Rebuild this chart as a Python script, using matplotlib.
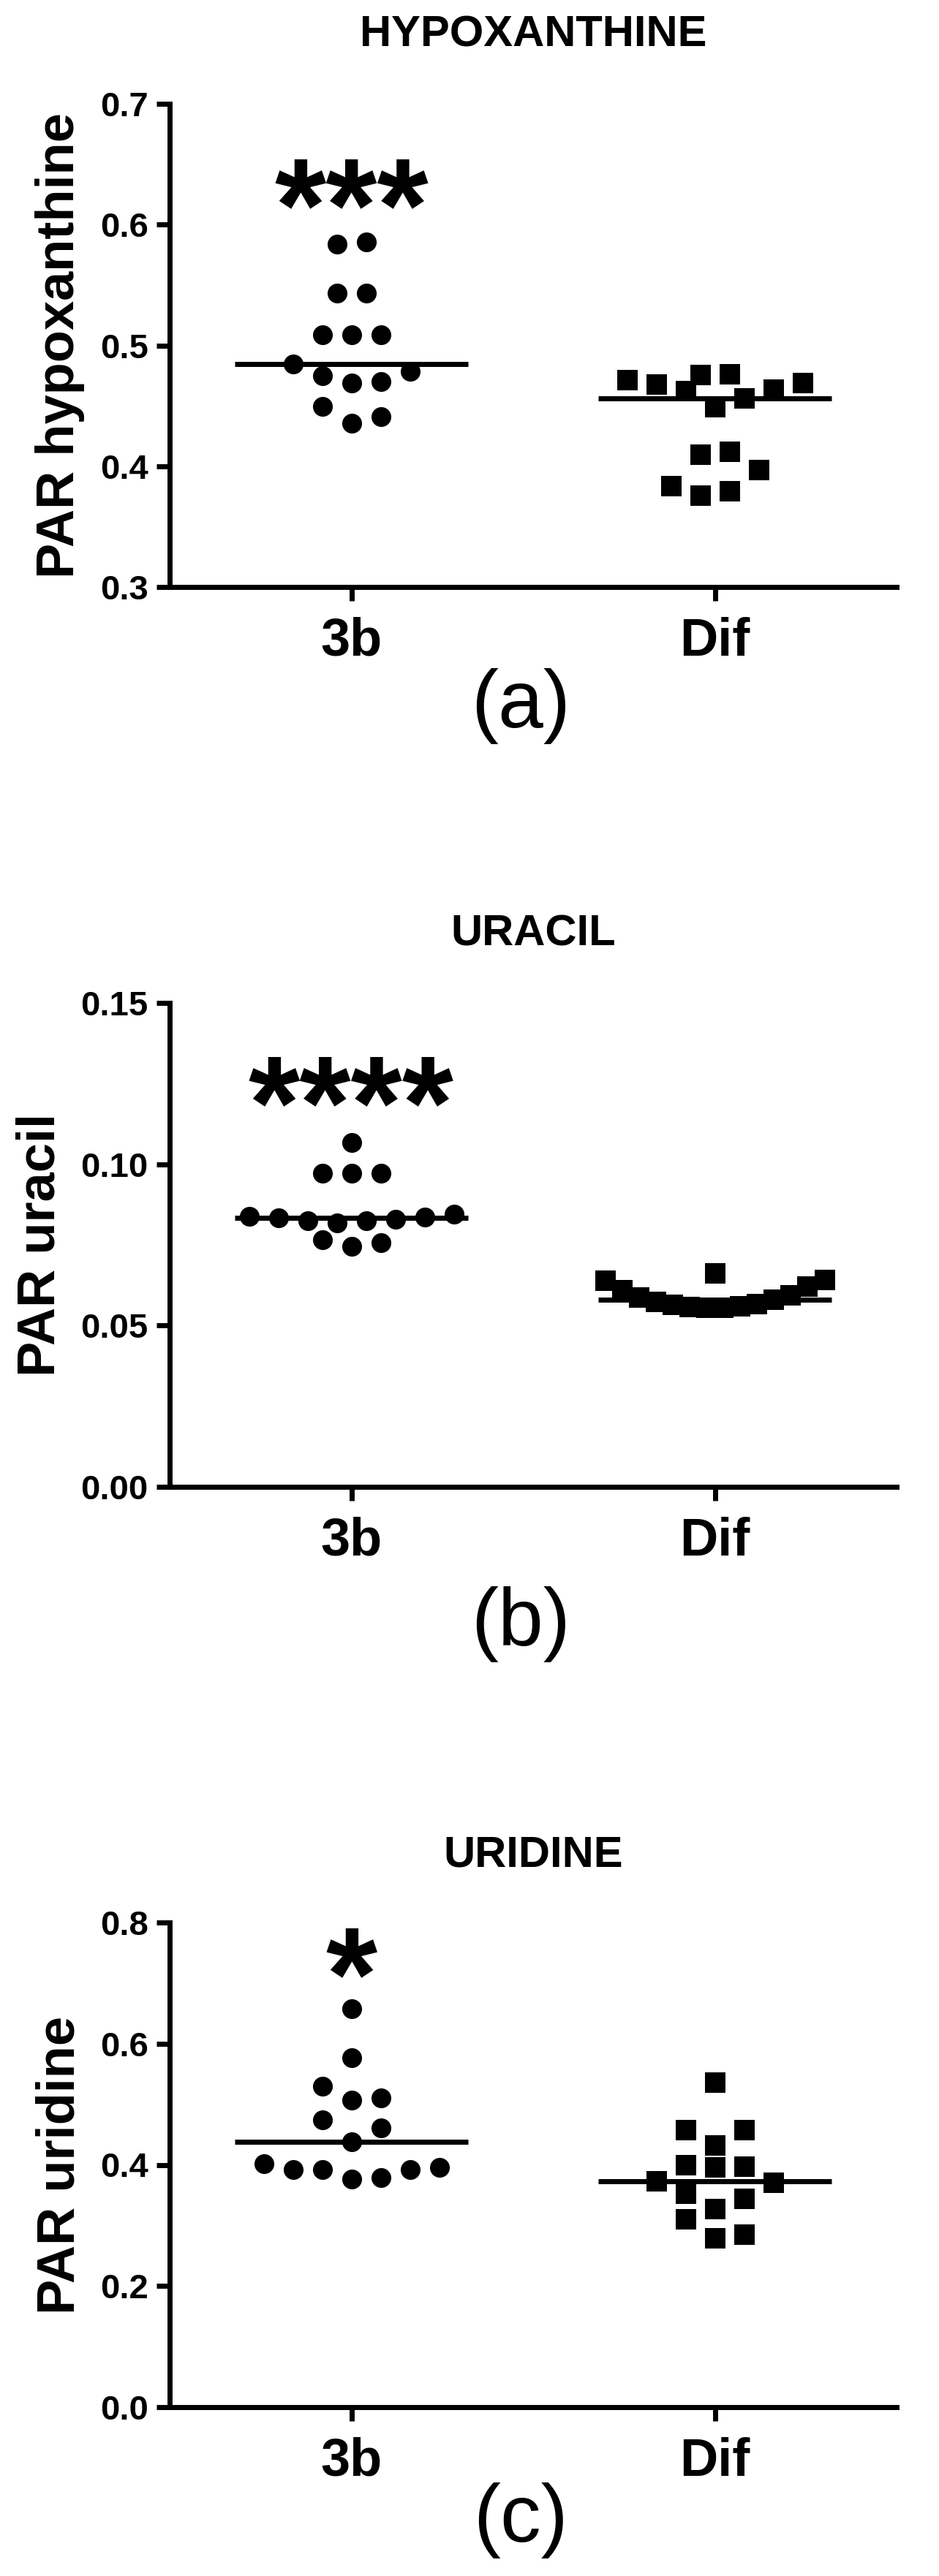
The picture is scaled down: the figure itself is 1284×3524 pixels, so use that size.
import numpy as np
import matplotlib
matplotlib.use("Agg")
import matplotlib.pyplot as plt

plt.rcParams['font.family'] = ['Liberation Sans', 'DejaVu Sans']

# ---------------- data ----------------
groups = ["3b", "Dif"]

hypox_3b = [0.4358, 0.4411, 0.4492, 0.4690, 0.4703, 0.4751, 0.4783, 0.4844,
            0.5087, 0.5087, 0.5087, 0.5431, 0.5431, 0.5836, 0.5856]
hypox_dif = [0.3756, 0.3790, 0.3835, 0.3970, 0.4095, 0.4120, 0.4487, 0.4560,
             0.4621, 0.4633, 0.4674, 0.4690, 0.4715, 0.4755, 0.4763]

uracil_3b = [0.0746, 0.0757, 0.0765, 0.0818, 0.0825, 0.0825, 0.0830, 0.0833,
             0.0836, 0.0838, 0.0845, 0.0973, 0.0973, 0.0973, 0.1068]
uracil_dif = [0.0555, 0.0556, 0.0558, 0.0560, 0.0564, 0.0567, 0.0573, 0.0579,
              0.0586, 0.0594, 0.0610, 0.0620, 0.0638, 0.0642, 0.0661]

uridine_3b = [0.3767, 0.3783, 0.3916, 0.3916, 0.3916, 0.3958, 0.4015, 0.4386,
              0.4609, 0.4742, 0.5073, 0.5106, 0.5296, 0.5768, 0.6577]
uridine_dif = [0.2792, 0.2842, 0.3106, 0.3271, 0.3437, 0.3519, 0.3701, 0.3726,
               0.3958, 0.3974, 0.3999, 0.4321, 0.4577, 0.4577, 0.5354]

titles = ["HYPOXANTHINE", "URACIL", "URIDINE"]
ylabels = ["PAR hypoxanthine", "PAR uracil", "PAR uridine"]
panel_tags = ["(a)", "(b)", "(c)"]
significance = ["***", "****", "*"]
yticks = [[0.3, 0.4, 0.5, 0.6, 0.7],
          [0.00, 0.05, 0.10, 0.15],
          [0.0, 0.2, 0.4, 0.6, 0.8]]
ytick_labels = [["0.3", "0.4", "0.5", "0.6", "0.7"],
                ["0.00", "0.05", "0.10", "0.15"],
                ["0.0", "0.2", "0.4", "0.6", "0.8"]]

panels = [(hypox_3b, hypox_dif), (uracil_3b, uracil_dif), (uridine_3b, uridine_dif)]

# ---------------- layout (pixels in the 1284 x 3524 figure) ----------------
W, H = 1284, 3524
DPI = 100
ax_left, ax_right = 232, 1226
ax_tops = [142, 1372, 2630]
ax_bottoms = [803, 2034, 3293]
title_baselines = [64, 1294, 2553]
tag_centers = [966, 2222, 3448]
star_centers = [0.639, 0.1278, 0.7614]   # vertical centre of the asterisks (data units)


def row_layout(values, px_per_unit, slot=40.0, h=39.0, g=23.0, max_span=300.0):
    """Prism-like column scatter: group sorted values into rows and spread
    each row symmetrically (lowest value in the middle)."""
    v = np.asarray(values, float)
    order = np.argsort(v, kind="stable")
    offs = np.zeros(len(v))
    rows, cur = [], [order[0]]
    for idx in order[1:]:
        if ((v[idx] - v[cur[0]]) * px_per_unit > h or
                (v[idx] - v[cur[-1]]) * px_per_unit > g):
            rows.append(cur)
            cur = [idx]
        else:
            cur.append(idx)
    rows.append(cur)
    for row in rows:
        n = len(row)
        sp = slot if n < 2 else min(slot, max_span / (n - 1))
        if n % 2:
            seq = [0.0] + [s * k for k in range(1, n // 2 + 1) for s in (1, -1)]
        else:
            seq = [s * (k - 0.5) for k in range(1, n // 2 + 1) for s in (-1, 1)]
        for idx, pos in zip(row, seq):
            offs[idx] = pos * sp
    return offs


fig = plt.figure(figsize=(W / DPI, H / DPI), dpi=DPI)
markers = ["o", "s"]
LW = 5

for p, data_pair in enumerate(panels):
    top, bot = ax_tops[p], ax_bottoms[p]
    ax = fig.add_axes([ax_left / W, 1 - bot / H, (ax_right - ax_left) / W, (bot - top) / H])
    ymin, ymax = yticks[p][0], yticks[p][-1]
    ax.set_xlim(-0.5, 1.5)
    ax.set_ylim(ymin, ymax)
    px_per_y = (bot - top) / (ymax - ymin)
    px_per_x = (ax_right - ax_left) / 2.0

    for gi, vals in enumerate(data_pair):
        offs = row_layout(vals, px_per_y)
        xs = gi + offs / px_per_x
        ax.plot(xs, vals, linestyle="none", marker=markers[gi], ms=19.5,
                color="black", mew=0, clip_on=False, zorder=3)
        med = float(np.median(vals))
        ax.plot([gi - 0.32, gi + 0.32], [med, med], color="black", lw=5,
                solid_capstyle="butt", zorder=4)

    for side in ("top", "right"):
        ax.spines[side].set_visible(False)
    for side in ("left", "bottom"):
        ax.spines[side].set_linewidth(LW)
        ax.spines[side].set_capstyle("projecting")

    ax.set_yticks(yticks[p])
    ax.set_yticklabels(ytick_labels[p], fontsize=34, fontweight="bold")
    ax.set_xticks([0, 1])
    ax.set_xticklabels(groups, fontsize=52, fontweight="bold")
    ax.tick_params(axis="y", length=13, width=LW, pad=8)
    ax.tick_params(axis="x", length=13.5, width=LW, pad=16)
    ax.set_ylabel(ylabels[p], fontsize=52, fontweight="bold", labelpad=15)

    ax.annotate(significance[p], xy=(0, star_centers[p]), xytext=(0, -0.553 * 130),
                textcoords="offset points", ha="center", va="baseline",
                fontsize=130, fontweight="bold", annotation_clip=False)

    fig.text((ax_left + ax_right) / 2 / W, 1 - title_baselines[p] / H, titles[p],
             ha="center", va="baseline", fontsize=43, fontweight="bold")
    fig.text(712 / W, 1 - tag_centers[p] / H, panel_tags[p],
             ha="center", va="center", fontsize=80)

fig.savefig("out.png", dpi=DPI, facecolor="white")
